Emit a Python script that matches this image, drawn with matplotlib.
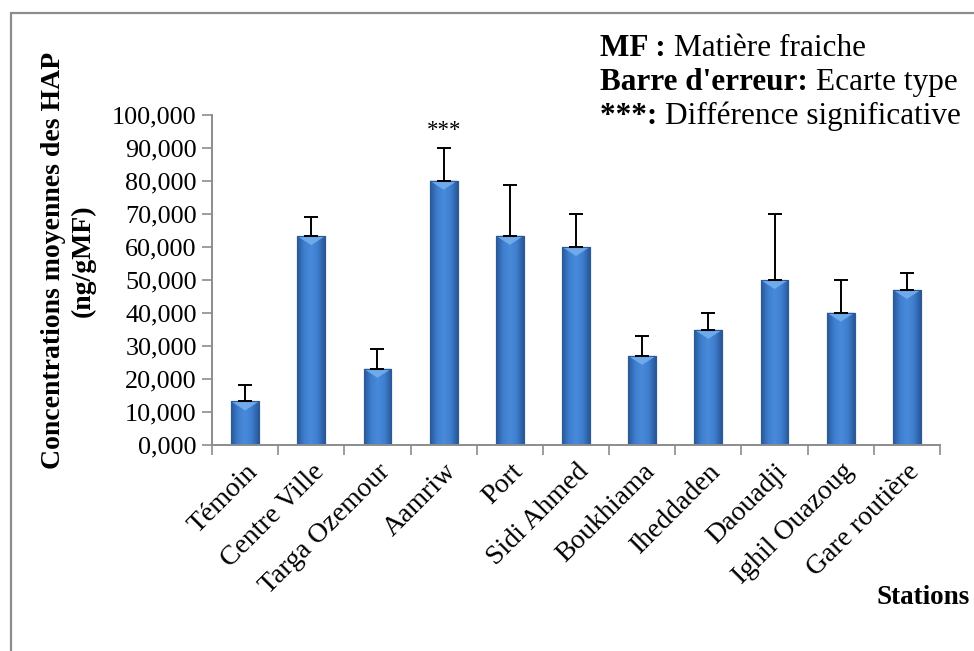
import numpy as np
import matplotlib
matplotlib.use("Agg")
import matplotlib.pyplot as plt
from matplotlib.patches import Polygon, Rectangle
from matplotlib.colors import LinearSegmentedColormap

stations = ["Témoin", "Centre Ville", "Targa Ozemour", "Aamriw", "Port",
            "Sidi Ahmed", "Boukhiama", "Iheddaden", "Daouadji",
            "Ighil Ouazoug", "Gare routière"]
means = [13.2, 63.3, 23.1, 80.1, 63.4, 60.0, 27.0, 34.9, 50.0, 40.1, 47.0]
std_dev = [5.1, 5.8, 6.0, 9.8, 15.3, 10.0, 5.9, 5.0, 20.0, 9.8, 5.0]
y_ticks = [0, 10, 20, 30, 40, 50, 60, 70, 80, 90, 100]
y_tick_labels = ["0,000", "10,000", "20,000", "30,000", "40,000", "50,000",
                 "60,000", "70,000", "80,000", "90,000", "100,000"]
significant = ["Aamriw"]

SERIF = ["Liberation Serif", "DejaVu Serif"]
W, H = 974, 651
fig = plt.figure(figsize=(W / 100, H / 100), dpi=100)
fig.patch.set_facecolor("white")

# outer frame of the chart area
fig.add_artist(Rectangle((11 / W, -0.05), 1.2, 1 - 13 / H + 0.05,
                         transform=fig.transFigure, fill=False,
                         edgecolor="#8c8c8c", linewidth=1.6))

ax = fig.add_axes([212 / W, 1 - 445 / H, (940 - 212) / W, (445 - 115) / H])
x = np.arange(len(stations)) + 0.5
bw = 0.42
bars = ax.bar(x, means, width=bw, color="#3B78C8", edgecolor="#2C5A96",
              linewidth=0.8, zorder=2)

# horizontal shading across each bar
cmap = LinearSegmentedColormap.from_list(
    "bevel", ["#2A5898", "#3E7ECF", "#4A8ADB", "#3E7ECF", "#2A5898"])
grad = np.linspace(0, 1, 64).reshape(1, -1)
px_per_unit = 330 / 100
for b, v in zip(bars, means):
    x0 = b.get_x()
    im = ax.imshow(grad, cmap=cmap, aspect="auto",
                   extent=(x0, x0 + bw, 0, v), zorder=2.1)
    im.set_clip_path(b)
    tri_h = 9 / px_per_unit
    tri = Polygon([(x0, v), (x0 + bw, v), (x0 + bw / 2, v - tri_h)],
                  closed=True, facecolor="#74AEEE", edgecolor="none",
                  alpha=0.9, zorder=2.2)
    ax.add_patch(tri)
    ax.add_patch(Rectangle((x0, 0), bw, v, fill=False,
                           edgecolor="#2C5A96", linewidth=0.8, zorder=2.3))

ax.errorbar(x, means, yerr=[np.zeros(len(means)), std_dev], fmt="none",
            ecolor="black", elinewidth=1.4, capsize=5, capthick=1.4, zorder=3)

for name, xi, m, s in zip(stations, x, means, std_dev):
    if name in significant:
        ax.text(xi, m + s + 5.5, "***", ha="center", va="center",
                fontsize=16.5, family=SERIF)

ax.set_xlim(0, len(stations))
ax.set_ylim(0, 100)
ax.set_yticks(y_ticks)
ax.set_yticklabels(y_tick_labels, family=SERIF, fontsize=18.8)
ax.set_xticks(np.arange(len(stations) + 1))
ax.set_xticklabels([])
ax.tick_params(axis="y", direction="out", length=7, width=1.2,
               color="#8c8c8c", pad=4)
ax.tick_params(axis="x", direction="out", length=7, width=1.2,
               color="#8c8c8c")
for side in ["top", "right"]:
    ax.spines[side].set_visible(False)
for side in ["left", "bottom"]:
    ax.spines[side].set_color("#8c8c8c")
    ax.spines[side].set_linewidth(1.4)

for xi, name in zip(x, stations):
    ax.annotate(name, xy=(xi, 0), xycoords="data",
                xytext=(18, -14), textcoords="offset pixels",
                rotation=45, ha="right", va="top", rotation_mode="default",
                fontsize=20, family=SERIF)

ax.set_ylabel("Concentrations moyennes des HAP\n(ng/gMF)", family=SERIF,
              fontweight="bold", fontsize=20, linespacing=1.25)
ax.yaxis.set_label_coords(-0.16, 0.558)

fig.text(970 / W, 1 - 604 / H, "Stations", ha="right", va="baseline",
         fontsize=19.5, fontweight="bold", family=SERIF)

# notes in the top right corner, bold key followed by plain text
notes = [("MF : ", "Matière fraiche", 56),
         ("Barre d'erreur: ", "Ecarte type", 90),
         ("***: ", "Différence significative", 124)]
fig.canvas.draw()
renderer = fig.canvas.get_renderer()
for key, desc, ybase in notes:
    t = fig.text(600 / W, 1 - ybase / H, key, fontsize=22.5,
                 fontweight="bold", family=SERIF, va="baseline")
    bb = t.get_window_extent(renderer)
    fig.text(bb.x1 / W, 1 - ybase / H, desc, fontsize=22.5,
             family=SERIF, va="baseline")

fig.savefig("out.png", dpi=100)
